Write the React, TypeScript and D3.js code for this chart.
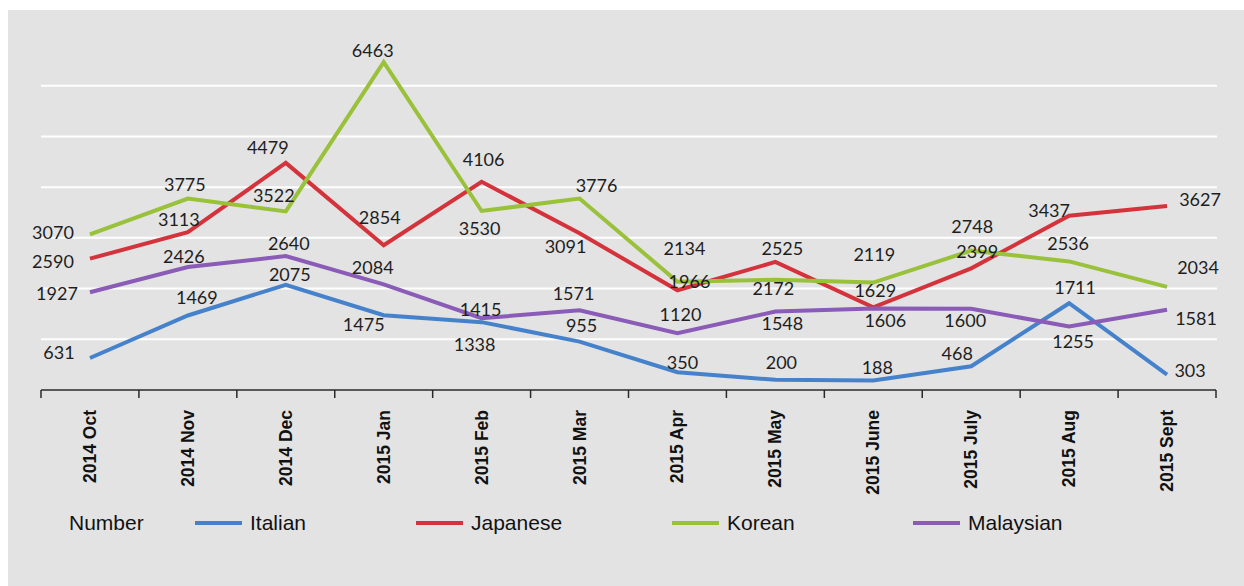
import React from 'react';
import * as d3 from 'd3';

const months = [
  '2014 Oct', '2014 Nov', '2014 Dec', '2015 Jan', '2015 Feb', '2015 Mar',
  '2015 Apr', '2015 May', '2015 June', '2015 July', '2015 Aug', '2015 Sept',
];

const italian = [631, 1469, 2075, 1475, 1338, 955, 350, 200, 188, 468, 1711, 303];
const japanese = [2590, 3113, 4479, 2854, 4106, 3091, 1966, 2525, 1629, 2399, 3437, 3627];
const korean = [3070, 3775, 3522, 6463, 3530, 3776, 2134, 2172, 2119, 2748, 2536, 2034];
const malaysian = [1927, 2426, 2640, 2084, 1415, 1571, 1120, 1548, 1606, 1600, 1255, 1581];

const gridTicks = [1000, 2000, 3000, 4000, 5000, 6000];

// label nudges (label centre relative to its point)
const italianLabel = [[-31, -5], [9, -18], [4, -10], [-20, 9], [-7, 22], [2, -16], [5, -10], [6, -17], [4, -13], [-14, -13], [6, -16], [23, -4]];
const japaneseLabel = [[-37, 3], [-9, -13], [-18, -15], [-4, -28], [2, -22], [-14, 13], [12, -9], [7, -13], [2, -17], [6, -17], [-20, -5], [33, -7]];
const koreanLabel = [[-37, -2], [-3, -14], [-12, -16], [-11, -12], [-2, 18], [17, -13], [7, -33], [-2, 9], [1, -28], [1, -24], [-1, -18], [31, -19]];
const malaysianLabel = [[-33, 1], [-4, -10], [3, -13], [-11, -17], [-1, -9], [-6, -17], [3, -19], [7, 12], [12, 12], [-6, 12], [4, 15], [29, 9]];

const series = [
  { name: 'Italian', values: italian, color: '#4682cc', labels: italianLabel, legendX: 195 },
  { name: 'Japanese', values: japanese, color: '#d5333c', labels: japaneseLabel, legendX: 416 },
  { name: 'Korean', values: korean, color: '#99c13a', labels: koreanLabel, legendX: 672 },
  { name: 'Malaysian', values: malaysian, color: '#8a5bb7', labels: malaysianLabel, legendX: 913 },
];

const W = 1244;
const H = 586;
const axisY = 390;

const App: React.FC = () => {
  const x = d3.scaleBand<string>().domain(months).range([41, 1216]).paddingInner(0).paddingOuter(0);
  const cx = (m: string) => (x(m) as number) + x.bandwidth() / 2;
  const y = d3.scaleLinear().domain([0, 7000]).range([axisY, 35]);

  const line = d3.line<number>()
    .x((_, i) => cx(months[i]))
    .y(d => y(d));

  const tickXs = [...months.map(m => x(m) as number), x.range()[1]];

  return (
    <svg width={W} height={H} style={{ position: 'fixed', left: 0, top: 0 }}>
      <rect x={0} y={0} width={W} height={H} fill="#ffffff" />
      <rect x={8} y={10} width={W - 8} height={H - 10} fill="#e3e3e3" />

      {gridTicks.map(t => (
        <line key={t} x1={41} x2={1217} y1={y(t)} y2={y(t)} stroke="#ffffff" strokeWidth={2} />
      ))}

      {series.map(s => (
        <path key={s.name} d={line(s.values) || ''} fill="none" stroke={s.color} strokeWidth={4} strokeLinejoin="miter" />
      ))}

      <g fontFamily="Lato, 'Open Sans', sans-serif" fontSize={18} fill="#1e1e1e" textAnchor="middle">
        {series.map(s => s.values.map((v, i) => (
          <text key={s.name + i} x={cx(months[i]) + s.labels[i][0]} y={y(v) + s.labels[i][1]} dy="0.36em">{v}</text>
        )))}
      </g>

      <line x1={41} x2={1216} y1={axisY} y2={axisY} stroke="#2a2a2a" strokeWidth={1.5} />
      {tickXs.map((t, i) => (
        <line key={i} x1={t} x2={t} y1={axisY} y2={axisY + 8} stroke="#2a2a2a" strokeWidth={1.5} />
      ))}
      <g fontFamily="'Liberation Sans', Arial, sans-serif" fontSize={17.5} fontWeight="bold" fill="#111">
        {months.map(m => (
          <text key={m} transform={`translate(${cx(m) + 6},410) rotate(-90)`} textAnchor="end">{m}</text>
        ))}
      </g>

      <g fontFamily="'Liberation Sans', Arial, sans-serif" fontSize={21} fill="#111">
        <text x={69} y={523} dy="0.35em">Number</text>
        {series.map(s => (
          <g key={s.name}>
            <line x1={s.legendX} x2={s.legendX + 47} y1={523} y2={523} stroke={s.color} strokeWidth={4} />
            <text x={s.legendX + 55} y={523} dy="0.35em">{s.name}</text>
          </g>
        ))}
      </g>
    </svg>
  );
};

export default App;
